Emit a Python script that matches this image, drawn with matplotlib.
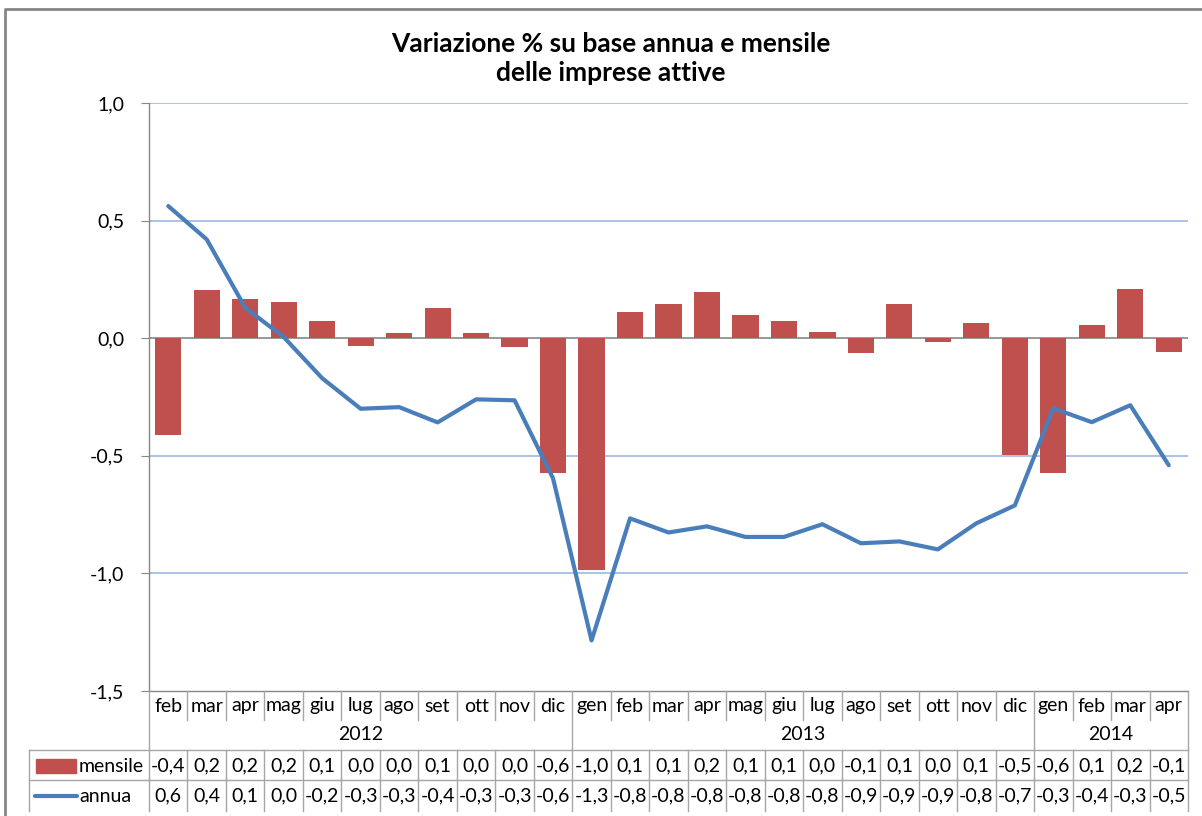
import matplotlib
matplotlib.use("Agg")
import matplotlib.pyplot as plt
from matplotlib import transforms
from matplotlib.lines import Line2D
from matplotlib.patches import Rectangle

plt.rcParams["font.family"] = ["Lato", "DejaVu Sans"]

# ---- dati ----
mesi = ["feb", "mar", "apr", "mag", "giu", "lug", "ago", "set", "ott", "nov", "dic",
        "gen", "feb", "mar", "apr", "mag", "giu", "lug", "ago", "set", "ott", "nov", "dic",
        "gen", "feb", "mar", "apr"]
anni = ["2012", "2013", "2014"]
mesi_per_anno = [11, 12, 4]

mensile = [-0.41, 0.204, 0.166, 0.152, 0.072, -0.034, 0.021, 0.128, 0.021, -0.038, -0.574,
           -0.987, 0.11, 0.145, 0.196, 0.098, 0.072, 0.026, -0.062, 0.145, -0.016, 0.064, -0.498,
           -0.574, 0.055, 0.208, -0.06]
annua = [0.562, 0.42, 0.13, 0.005, -0.17, -0.30, -0.293, -0.358, -0.26, -0.264, -0.596,
         -1.285, -0.766, -0.826, -0.80, -0.845, -0.845, -0.791, -0.872, -0.864, -0.898, -0.787, -0.711,
         -0.298, -0.357, -0.285, -0.54]

RED = "#C0504D"
BLUE = "#4A7EBB"
GRID = "#A3BEE5"
AXIS = "#868686"
TAB = "#A6A6A6"
FS = 14

W, H = 1202, 816


def fy(px):
    return 1 - px / H


def fx(px):
    return px / W


def fmt(v):
    s = f"{v:.1f}"
    if s == "-0.0":
        s = "0.0"
    return s.replace(".", ",")


fig = plt.figure(figsize=(W / 100, H / 100), dpi=100)
ax = fig.add_axes([fx(149), fy(691), fx(1188) - fx(149), fy(103) - fy(691)])

x = list(range(len(mesi)))
ax.bar(x, mensile, width=0.68, color=RED, zorder=3)
ax.plot(x, annua, color=BLUE, lw=3, zorder=4, solid_capstyle="round")

ax.set_xlim(-0.5, len(mesi) - 0.5)
ax.set_ylim(-1.5, 1.0)
ax.set_yticks([-1.5, -1.0, -0.5, 0.0, 0.5, 1.0])
ax.set_yticklabels([fmt(v) for v in [-1.5, -1.0, -0.5, 0.0, 0.5, 1.0]], fontsize=FS)
ax.tick_params(axis="y", direction="out", length=6, color=AXIS, pad=12)
ax.set_xticks([])
for v in [-1.0, -0.5, 0.5, 1.0]:
    ax.axhline(v, color=GRID, lw=1.3, zorder=1)
ax.axhline(0, color=AXIS, lw=1.2, zorder=2)
for s in ["top", "right"]:
    ax.spines[s].set_visible(False)
ax.spines["left"].set_color(AXIS)
ax.spines["bottom"].set_color(AXIS)
ax.spines["left"].set_linewidth(1.0)
ax.spines["bottom"].set_linewidth(1.0)

fig.text(0.508, fy(44), "Variazione % su base annua e mensile", ha="center", va="center",
         fontsize=19, fontweight="bold")
fig.text(0.508, fy(73), "delle imprese attive", ha="center", va="center",
         fontsize=19, fontweight="bold")

# ---- tabella dati ----
bt = transforms.blended_transform_factory(ax.transData, fig.transFigure)
n = len(mesi)


def vline(xd, y0, y1):
    fig.add_artist(Line2D([xd, xd], [fy(y0), fy(y1)], transform=bt, color=TAB, lw=1))


def hline(x0px, y):
    fig.add_artist(Line2D([fx(x0px), fx(1188)], [fy(y), fy(y)], transform=fig.transFigure,
                          color=TAB, lw=1))


confini = []
acc = 0
for k in mesi_per_anno[:-1]:
    acc += k
    confini.append(acc - 0.5)

for i in range(n + 1):
    xd = i - 0.5
    if i == 0 or i == n or xd in confini:
        vline(xd, 691, 811)
    else:
        vline(xd, 691, 720)
        vline(xd, 750, 811)

hline(29, 750)
hline(29, 780)
fig.add_artist(Line2D([fx(29), fx(29)], [fy(750), fy(811)], transform=fig.transFigure,
                      color=TAB, lw=1))

for i, m in enumerate(mesi):
    fig.text(i, fy(706), m, transform=bt, ha="center", va="center", fontsize=FS)
    fig.text(i, fy(766), fmt(mensile[i]), transform=bt, ha="center", va="center", fontsize=FS)
    fig.text(i, fy(796), fmt(annua[i]), transform=bt, ha="center", va="center", fontsize=FS)

start = 0
for anno, k in zip(anni, mesi_per_anno):
    fig.text(start + (k - 1) / 2, fy(734), anno, transform=bt, ha="center", va="center",
             fontsize=FS)
    start += k

# legenda nella tabella
fig.add_artist(Rectangle((fx(36), fy(773)), fx(76) - fx(36), fy(759) - fy(773),
                         transform=fig.transFigure, color=RED))
fig.add_artist(Line2D([fx(35), fx(77)], [fy(796), fy(796)], transform=fig.transFigure,
                      color=BLUE, lw=3, solid_capstyle="round"))
fig.text(fx(79), fy(766), "mensile", ha="left", va="center", fontsize=FS)
fig.text(fx(79), fy(796), "annua", ha="left", va="center", fontsize=FS)

# bordo esterno
fig.add_artist(Line2D([fx(5), fx(5), fx(1202)], [fy(816), fy(9), fy(9)],
                      transform=fig.transFigure, color=AXIS, lw=2))

fig.savefig("out.png", dpi=100)
